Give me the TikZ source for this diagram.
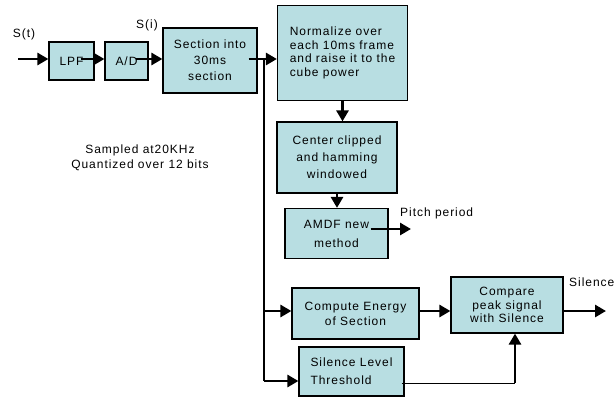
\documentclass[tikz,border=0pt]{standalone}
\usepackage{fontspec}
\setmainfont{Liberation Sans}[LetterSpace=8]
\usetikzlibrary{arrows.meta,calc}
\definecolor{boxfill}{RGB}{184,222,226}
\begin{document}
\begin{tikzpicture}[x=1pt,y=-1pt,
 box/.style={draw=black,line width=1.2pt,fill=boxfill,align=center,inner sep=2pt,font=\fontsize{12}{13.5}\selectfont},
 arr/.style={line width=2.8pt,-{Triangle[length=11pt,width=12pt]}},
 bus/.style={line width=1.3pt},
 thin/.style={line width=1pt},
 lbl/.style={font=\fontsize{12}{15}\selectfont,inner sep=0pt}]
\useasboundingbox (0,0) rectangle (615,397);

% boxes
\node[box,minimum width=45pt,minimum height=38pt] (lpf) at (71.5,61) {LPF};
\node[box,minimum width=43pt,minimum height=38pt] (ad) at (126.5,61) {A/D};
\node[box,minimum width=94pt,minimum height=65pt,font=\fontsize{12}{16}\selectfont] (sec) at (210,60.5) {Section into\\30ms\\section};
\node[box,minimum width=130pt,minimum height=95pt,align=left] (norm) at (342.5,53) {Normalize over\\each 10ms frame\\and raise it to the\\cube power};
\node[box,minimum width=120pt,minimum height=71pt,font=\fontsize{12}{17}\selectfont] (cen) at (337,157.5) {Center clipped\\and hamming\\windowed};
\node[box,minimum width=103pt,minimum height=50pt,font=\fontsize{12}{19}\selectfont] (amdf) at (336.5,233.5) {AMDF new\\method};
\node[box,minimum width=127pt,minimum height=51pt,font=\fontsize{12}{15}\selectfont] (en) at (355.5,313.5) {Compute Energy\\of Section};
\node[box,minimum width=112pt,minimum height=56pt] (cmp) at (507,305) {Compare\\peak signal\\with Silence};
\node[box,minimum width=105pt,minimum height=49pt,align=left,font=\fontsize{12}{18}\selectfont] (sil) at (351.5,371.5) {Silence Level\\Threshold};

% labels
\node[lbl] (st) at (24,34) {S(t)};
\node[lbl] (si) at (147,25) {S(i)};
\node[lbl,align=center] (samp) at (140,157.5) {Sampled at20KHz\\Quantized over 12 bits};
\node[lbl,anchor=west] (pitch) at (400,213) {Pitch period};
\node[lbl,anchor=west] (silo) at (569,282) {Silence};

% coordinates
\coordinate (in) at (18,59);
\coordinate (bt) at (264,59);
\coordinate (bb) at (264,381);
\coordinate (be) at (264,311);
\coordinate (pe) at (411,229);
\coordinate (sc) at (515,383);
\coordinate (out) at (606,311);

% connectors
\draw[arr] (in) -- (in -| lpf.west);
\draw[arr] ([xshift=-14pt]lpf.east |- in) -- (ad.west |- in);
\draw[arr] ([xshift=-13pt]ad.east |- in) -- (sec.west |- in);
\draw[arr] ([xshift=-9pt]sec.east |- in) -- (norm.west |- in);
\draw[bus] (bt) -- (bb);
\draw[arr] (be) -- (en.west |- be);
\draw[arr] (bb) -- (sil.west |- bb);
\draw[arr] (norm.south) -- (norm.south |- cen.north);
\draw[arr] (cen.south) -- (cen.south |- amdf.north);
\draw[arr] ([xshift=-18pt]amdf.east |- pe) -- (pe);
\draw[arr] (en.east |- be) -- (cmp.west |- be);
\draw[arr] (cmp.east |- be) -- (out);
\draw[thin] ([xshift=-3pt]sil.east |- sc) -- (sc);
\draw[arr] (sc) -- (sc |- cmp.south);
\end{tikzpicture}
\end{document}
